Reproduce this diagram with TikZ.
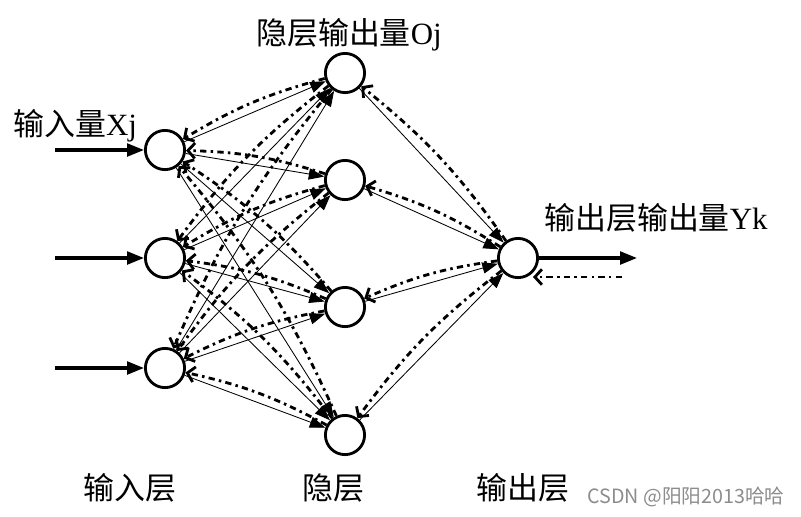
\documentclass[tikz,border=0pt]{standalone}
\usepackage{fontspec}
\setmainfont{Liberation Serif}
\newfontfamily\cjk{Noto Sans CJK SC}
\usetikzlibrary{positioning,arrows.meta,calc}

\begin{document}
\begin{tikzpicture}[x=0.025cm, y=-0.025cm,
    neuron/.style={circle, draw, line width=2pt, minimum size=0.98cm, inner sep=0pt},
    fwd/.style={-{Triangle[length=11pt,width=8pt]}, line width=0.6pt},
    bwd/.style={-{Straight Barb[length=5pt,width=11pt]}, line width=2pt,
                dash pattern=on 4.5pt off 3pt on 1.8pt off 3pt, bend right=8},
    io/.style={-{Triangle[length=12pt,width=9pt]}, line width=2.2pt},
    lbl/.style={font=\fontsize{22}{26}\selectfont, inner sep=0pt}]
    %
    \useasboundingbox (0,0) rectangle (801,516);
    %
    \foreach \i/\y in {1/150,2/258,3/368}
    \node[neuron] (vI\i) at (165,\y) {};
    \foreach \j/\y in {1/73,2/180,3/307,4/435}
    \node[neuron] (vH\j) at (345,\y) {};
    \node[neuron] (vO) at (518,258) {};
    %
    \foreach \i in {1,2,3} :
    \foreach \j in {1,...,4} :
    \draw[fwd] (vI\i) -- (vH\j);
    \foreach \j in {1,...,4} :
    \draw[fwd] (vH\j) -- (vO);
    %
    \foreach \i in {1,2,3} :
    \foreach \j in {1,...,4} :
    \draw[bwd] (vH\j) to (vI\i);
    \foreach \j in {1,...,4} :
    \draw[bwd] (vO) to (vH\j);
    %
    \foreach \i/\y in {1/150,2/258,3/368} {
        \node[coordinate] (vX\i) at (55,\y) {};
        \draw[io] (vX\i) -- (vI\i);
    }
    \node[coordinate] (vY) at (637,258) {};
    \draw[io] (vO) -- (vY);
    \node[coordinate] (vE) at (622,277) {};
    \node[coordinate] (vEb) at (533,277) {};
    \draw[bwd] (vE) -- (vEb);
    %
    \node[lbl, anchor=west] (tIn) at (13,126) {{\cjk 输入量}Xj};
    \node[lbl] (tHid) at (349,35) {{\cjk 隐层输出量}Oj};
    \node[lbl] (tOut) at (656,218) {{\cjk 输出层输出量}Yk};
    \node[lbl] (lIn) at (130,488) {\cjk 输入层};
    \node[lbl] (lHid) at (333,488) {\cjk 隐层};
    \node[lbl] (lOut) at (523,488) {\cjk 输出层};
    \node[inner sep=0pt, text=black!45, font=\cjk\fontsize{14}{16}\selectfont] (wm) at (686,497) {CSDN @阳阳2013哈哈};
\end{tikzpicture}
\end{document}
